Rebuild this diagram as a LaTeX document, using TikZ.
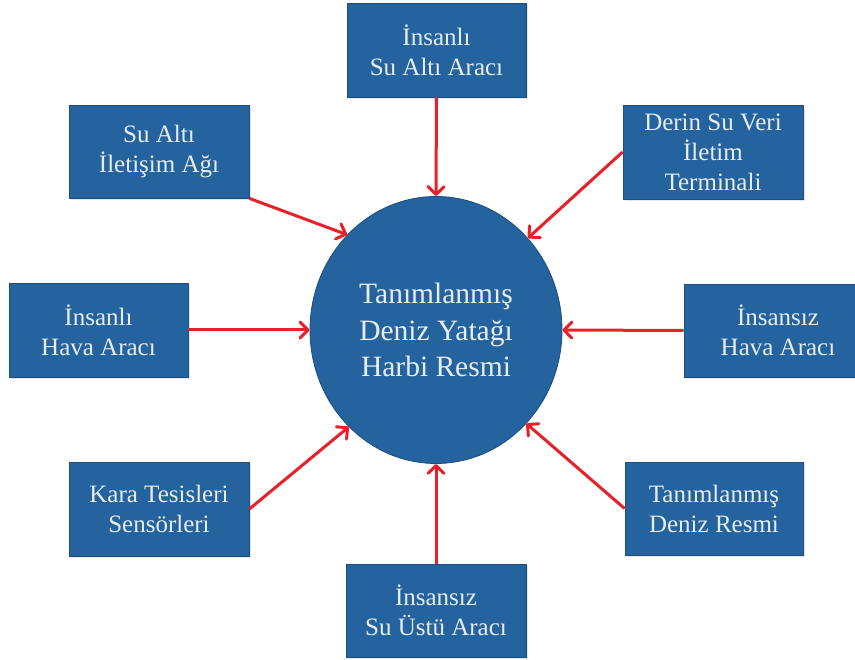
\documentclass[tikz,border=0pt]{standalone}
\usepackage{fontspec}
\setmainfont{Liberation Serif}
\newfontfamily\diagserif{Liberation Serif}
\usetikzlibrary{shapes.geometric,arrows.meta,shadows}
\definecolor{boxblue}{HTML}{24639E}
\definecolor{boxedge}{HTML}{1C4F80}
\definecolor{boxtext}{HTML}{E8EDF2}
\definecolor{arrowred}{HTML}{E8202A}
\tikzset{
  srcbox/.style={draw=boxedge, line width=0.8pt, fill=boxblue, text=boxtext,
    align=center, inner sep=0pt, minimum width=180pt, minimum height=94pt,
    font=\diagserif\fontsize{25}{30}\selectfont,
    drop shadow={shadow xshift=2pt, shadow yshift=-2pt, opacity=0.2}},
  hub/.style={ellipse, draw=boxedge, line width=0.8pt, fill=boxblue, text=boxtext,
    align=center, inner sep=0pt, minimum width=252pt, minimum height=267pt,
    font=\diagserif\fontsize{29.5}{36.5}\selectfont},
  feed/.style={draw=arrowred, line width=3pt,
    -{Straight Barb[round,length=8pt,width=16pt]}}
}
\begin{document}
\begin{tikzpicture}[x=1pt,y=-1pt]
\clip (0,0) rectangle (855,660);
\fill[white] (0,0) rectangle (855,660);

\node[hub] (c) at (436,330) {Tanımlanmış\\Deniz Yatağı\\Harbi Resmi};

\node[srcbox, minimum width=179pt] (top) at (436.5,50) {İnsanlı\\Su Altı Aracı};
\node[srcbox, minimum height=93pt] (sa) at (159,151.5) {Su Altı\\İletişim Ağı};
\node[srcbox] (dt) at (713,152) {Derin Su Veri\\İletim\\Terminali};
\node[srcbox, minimum width=179pt] (ih) at (98.5,330) {İnsanlı\\Hava Aracı};
\node[srcbox, minimum width=188pt, minimum height=93pt] (uh) at (778,330.5) {İnsansız\\Hava Aracı};
\node[srcbox] (ks) at (159,509) {Kara Tesisleri\\Sensörleri};
\node[srcbox, minimum width=178pt, minimum height=93pt] (td) at (714,508.5) {Tanımlanmış\\Deniz Resmi};
\node[srcbox, minimum height=93pt] (bt) at (436,610.5) {İnsansız\\Su Üstü Aracı};

\draw[feed] (top.south) -- (c.north);
\draw[feed] (bt.north) -- (c.south);
\draw[feed] (ih.east) -- (c.west);
\draw[feed] (uh.west) -- (c.east);
\draw[feed] (sa.south east) -- (c.133);
\draw[feed] (dt.west) -- (c.45);
\draw[feed] (ks.east) -- (c.228);
\draw[feed] (td.west) -- (c.314);
\end{tikzpicture}
\end{document}
